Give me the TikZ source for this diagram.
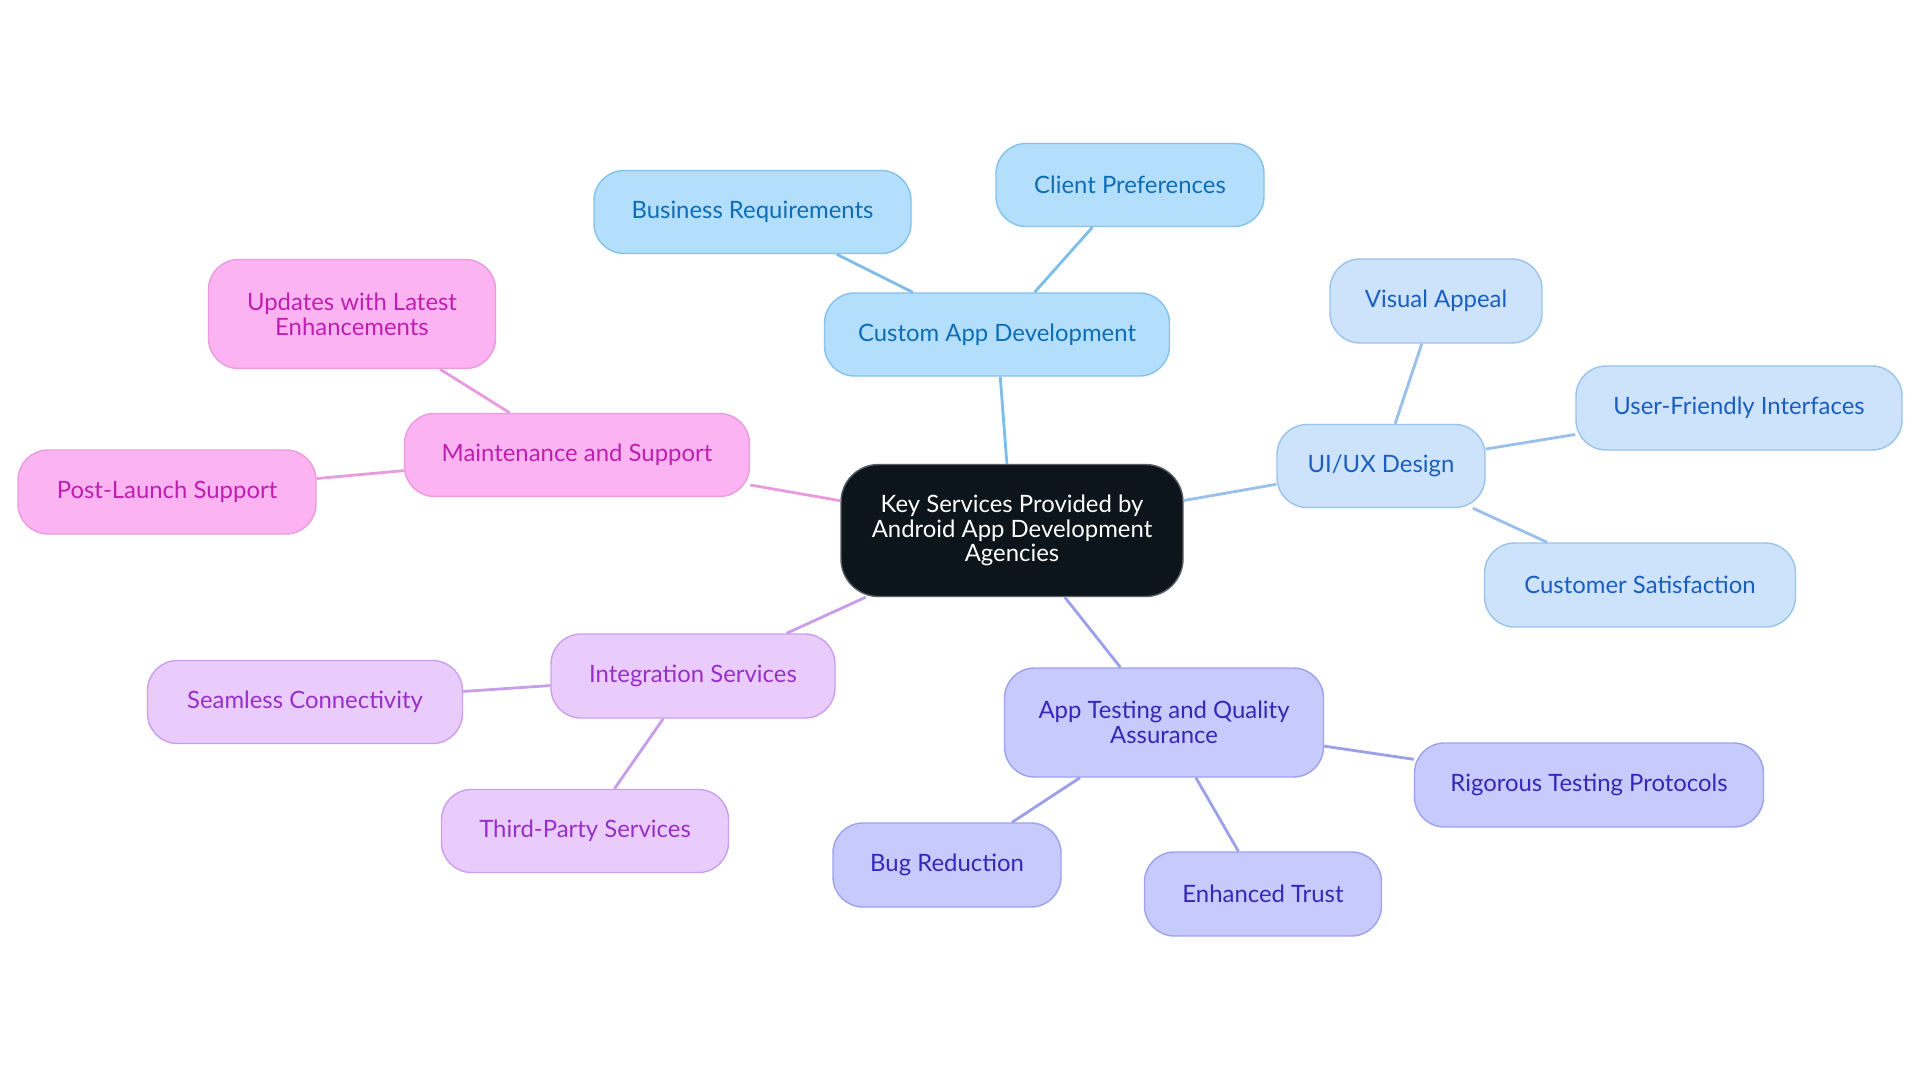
\documentclass[tikz,border=0pt]{standalone}
\usepackage{fontspec}
\setmainfont{Lato}
\definecolor{ink}{HTML}{0C141C}
\definecolor{inkline}{HTML}{5A5F66}
\definecolor{skyfill}{HTML}{B3DEFC}
\definecolor{skyline}{HTML}{86C2EC}
\definecolor{skytext}{HTML}{0E6DB4}
\definecolor{skyedge}{HTML}{7DBDE9}
\definecolor{icefill}{HTML}{CCE3FB}
\definecolor{iceline}{HTML}{9CC2EE}
\definecolor{icetext}{HTML}{1B5EBF}
\definecolor{iceedge}{HTML}{99BFEB}
\definecolor{rosefill}{HTML}{FCB3F2}
\definecolor{roseline}{HTML}{EB9BDF}
\definecolor{rosetext}{HTML}{BE1FAE}
\definecolor{roseedge}{HTML}{E99BDD}
\definecolor{lilacfill}{HTML}{E9CCFC}
\definecolor{lilacline}{HTML}{CC9FEC}
\definecolor{lilactext}{HTML}{982FC8}
\definecolor{lilacedge}{HTML}{C89EEB}
\definecolor{indfill}{HTML}{C7CAFD}
\definecolor{indline}{HTML}{9EA2EE}
\definecolor{indtext}{HTML}{3528B6}
\definecolor{indedge}{HTML}{9BA0EA}

\begin{document}
\begin{tikzpicture}[x=1cm,y=1cm,
  bub/.style={draw,rounded corners=0.6cm,align=center,font=\fontsize{13.6}{14}\selectfont,line width=0.8pt,minimum height=1.66cm,inner sep=2pt},
  hub/.style={bub,fill=ink,draw=inkline,text=white,minimum width=6.84cm,minimum height=2.64cm,rounded corners=0.75cm},
  dev/.style={bub,fill=skyfill,draw=skyline,text=skytext},
  ux/.style={bub,fill=icefill,draw=iceline,text=icetext},
  care/.style={bub,fill=rosefill,draw=roseline,text=rosetext},
  integ/.style={bub,fill=lilacfill,draw=lilacline,text=lilactext},
  qa/.style={bub,fill=indfill,draw=indline,text=indtext},
  link/.style={line width=1.6pt}]
\path[fill=white,use as bounding box] (0,0) rectangle (38.4,-21.66);
% centre
\node[hub] (root) at (20.24,-10.61) {Key Services Provided by\\Android App Development\\Agencies};
% custom development branch
\node[dev,minimum width=6.9cm] (cad) at (19.94,-6.69) {Custom App Development};
\node[dev,minimum width=6.34cm] (biz) at (15.05,-4.24) {Business Requirements};
\node[dev,minimum width=5.36cm] (cli) at (22.60,-3.70) {Client Preferences};
% design branch
\node[ux,minimum width=4.16cm] (uix) at (27.62,-9.32) {UI/UX Design};
\node[ux,minimum width=4.24cm,minimum height=1.68cm] (vis) at (28.72,-6.02) {Visual Appeal};
\node[ux,minimum width=6.52cm,minimum height=1.68cm] (ufi) at (34.78,-8.16) {User-Friendly Interfaces};
\node[ux,minimum width=6.22cm,minimum height=1.68cm] (cus) at (32.80,-11.70) {Customer Satisfaction};
% maintenance branch
\node[care,minimum width=6.9cm] (mnt) at (11.54,-9.10) {Maintenance and Support};
\node[care,minimum width=5.74cm,minimum height=2.18cm] (upd) at (7.04,-6.28) {Updates with Latest\\Enhancements};
\node[care,minimum width=5.96cm,minimum height=1.68cm] (pls) at (3.34,-9.84) {Post-Launch Support};
% integration branch
\node[integ,minimum width=5.68cm,minimum height=1.68cm] (int) at (13.86,-13.52) {Integration Services};
\node[integ,minimum width=6.3cm] (sea) at (6.10,-14.04) {Seamless Connectivity};
\node[integ,minimum width=5.74cm] (tps) at (11.70,-16.62) {Third-Party Services};
% testing branch
\node[qa,minimum width=6.38cm,minimum height=2.18cm] (atq) at (23.28,-14.45) {App Testing and Quality\\Assurance};
\node[qa,minimum width=6.98cm,minimum height=1.68cm] (rig) at (31.78,-15.70) {Rigorous Testing Protocols};
\node[qa,minimum width=4.56cm,minimum height=1.68cm] (bug) at (18.94,-17.30) {Bug Reduction};
\node[qa,minimum width=4.74cm,minimum height=1.68cm] (trs) at (25.26,-17.88) {Enhanced Trust};
% connectors
\draw[link,skyedge] (root) -- (cad);
\draw[link,skyedge] (cad) -- (biz);
\draw[link,skyedge] (cad) -- (cli);
\draw[link,iceedge] (root) -- (uix);
\draw[link,iceedge] (uix) -- (vis);
\draw[link,iceedge] (uix) -- (ufi);
\draw[link,iceedge] (uix) -- (cus);
\draw[link,roseedge] (root) -- (mnt);
\draw[link,roseedge] (mnt) -- (upd);
\draw[link,roseedge] (mnt) -- (pls);
\draw[link,lilacedge] (root) -- (int);
\draw[link,lilacedge] (int) -- (sea);
\draw[link,lilacedge] (int) -- (tps);
\draw[link,indedge] (root) -- (atq);
\draw[link,indedge] (atq) -- (rig);
\draw[link,indedge] (atq) -- (bug);
\draw[link,indedge] (atq) -- (trs);
\end{tikzpicture}
\end{document}
